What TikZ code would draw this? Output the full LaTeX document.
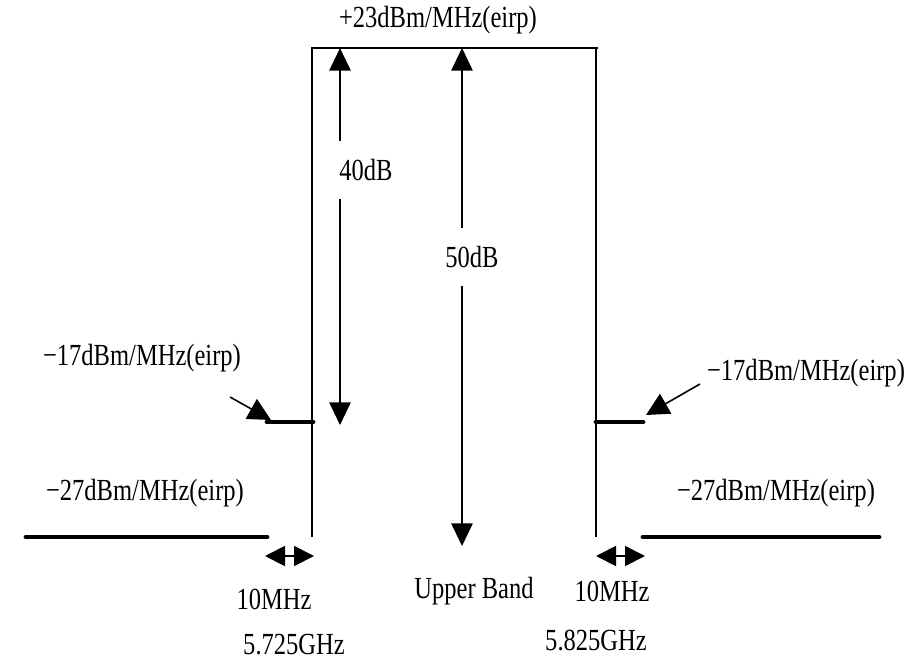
\documentclass[tikz,border=0pt]{standalone}
\usepackage{fontspec}
\setmainfont{Liberation Serif}[FakeStretch=0.8]
\usetikzlibrary{arrows.meta}
\begin{document}
\begin{tikzpicture}[x=0.75pt,y=-0.75pt,
  thin line/.style={line width=1.6pt},
  thick line/.style={line width=3.6pt,line cap=round},
  dim/.style={line width=1.4pt,{Triangle[length=17pt,width=16pt]}-{Triangle[length=17pt,width=16pt]}},
  small dim/.style={line width=1.4pt,{Triangle[length=15pt,width=15pt]}-{Triangle[length=15pt,width=15pt]}},
  ptr/.style={line width=1.2pt,-{Triangle[length=17pt,width=17pt]}},
  lbl/.style={font=\fontsize{23}{25}\selectfont,inner sep=0pt},
  gap/.style={lbl,fill=white,inner xsep=5pt,inner ysep=14pt}]
\useasboundingbox (0,0) rectangle (916,660);
% mask coordinates
\coordinate (lb) at (312,537);
\coordinate (lt) at (312,48);
\coordinate (rt) at (596,48);
\coordinate (rte) at (598,48);
\coordinate (rb) at (596,537);
\draw[thin line] (lb) -- (lt) -- (rte);
\draw[thin line] (rt) -- (rb);
% steps
\coordinate (ls1) at (267,422);
\coordinate (ls2) at (313,422);
\coordinate (rs1) at (596,422);
\coordinate (rs2) at (643,422);
\draw[thick line] (ls1) -- (ls2);
\draw[thick line] (rs1) -- (rs2);
% floors
\coordinate (lf1) at (26,537);
\coordinate (lf2) at (267,537);
\coordinate (rf1) at (643,537);
\coordinate (rf2) at (879,537);
\draw[thick line] (lf1) -- (lf2);
\draw[thick line] (rf1) -- (rf2);
% dimension arrows
\coordinate (a40t) at (340,48);
\coordinate (a40b) at (340,425);
\draw[dim] (a40t) -- (a40b);
\coordinate (a50t) at (462,48);
\coordinate (a50b) at (462,546);
\draw[dim] (a50t) -- (a50b);
\coordinate (m1a) at (265,556);
\coordinate (m1b) at (314,556);
\draw[small dim] (m1a) -- (m1b);
\coordinate (m2a) at (596,556);
\coordinate (m2b) at (645,556);
\draw[small dim] (m2a) -- (m2b);
% pointers
\coordinate (p1s) at (230,397);
\coordinate (p1e) at (271,420);
\draw[ptr] (p1s) -- (p1e);
\coordinate (p2s) at (700,384);
\coordinate (p2e) at (646,415);
\draw[ptr] (p2s) -- (p2e);
% labels
\node[lbl] (top) at (438,20) {+23dBm/MHz(eirp)};
\node[gap] (l40) at (366,170) {40dB};
\node[gap] (l50) at (472,257) {50dB};
\node[lbl] (l17a) at (142,358) {−17dBm/MHz(eirp)};
\node[lbl] (l17b) at (806,373) {−17dBm/MHz(eirp)};
\node[lbl] (l27a) at (145,493) {−27dBm/MHz(eirp)};
\node[lbl] (l27b) at (776,493) {−27dBm/MHz(eirp)};
\node[lbl] (m10a) at (274,599) {10MHz};
\node[lbl] (m10b) at (612,591) {10MHz};
\node[lbl] (ub) at (474,591) {Upper Band};
\node[lbl] (g1) at (294,645) {5.725GHz};
\node[lbl] (g2) at (596,641) {5.825GHz};
\end{tikzpicture}
\end{document}
